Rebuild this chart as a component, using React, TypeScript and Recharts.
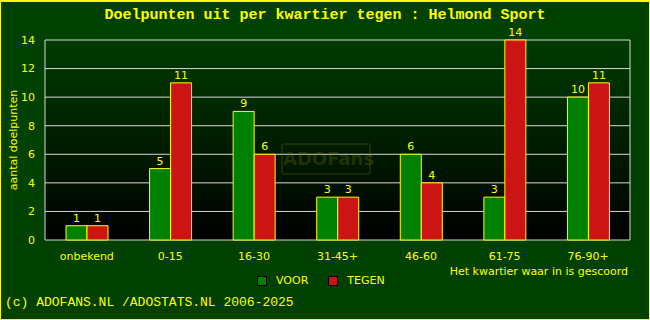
import React from "react";
import { BarChart, Bar, XAxis, YAxis, CartesianGrid, LabelList } from "recharts";

const categories = ["onbekend", "0-15", "16-30", "31-45+", "46-60", "61-75", "76-90+"];
const voor = [1, 5, 9, 3, 6, 3, 10];
const tegen = [1, 11, 6, 3, 4, 14, 11];
const yTicks = [0, 2, 4, 6, 8, 10, 12, 14];
const legendItems = [
  { name: "VOOR", color: "#008000" },
  { name: "TEGEN", color: "#cc1414" },
];

const data = categories.map((c, i) => ({ cat: c, VOOR: voor[i], TEGEN: tegen[i] }));

const YEL = "#ffff00";
const sans = "'DejaVu Sans', sans-serif";
const mono = "'Liberation Mono', 'DejaVu Sans Mono', monospace";

export default function App() {
  return (
    <div style={{ position: "fixed", left: 0, top: 0, width: 650, height: 320, background: "#004000", boxSizing: "border-box", borderStyle: "solid", borderColor: "#ffff00", borderWidth: "2px 1px 1px 1px", overflow: "hidden" }}>
      <div style={{ position: "absolute", left: -1, width: 650, textAlign: "center", fontFamily: mono, fontSize: 15, color: YEL, fontWeight: "bold", lineHeight: "18px", top: 5 }}>
        Doelpunten uit per kwartier tegen : Helmond Sport
      </div>
      <div style={{ position: "absolute", left: -1, top: -2 }}>
        <BarChart width={650} height={320} data={data} margin={{ top: 40, right: 20, left: 0, bottom: 50 }} barGap={0} barSize={21}>
          <defs>
            <linearGradient id="plotbg" x1="0" y1="0" x2="0" y2="1">
              <stop offset="0%" stopColor="#003c00" />
              <stop offset="100%" stopColor="#000000" />
            </linearGradient>
          </defs>
          <CartesianGrid fill="url(#plotbg)" stroke="#d8d8d8" strokeWidth={1} vertical={true} verticalPoints={[45, 630]} fillOpacity={1} />
          <XAxis dataKey="cat" height={30} axisLine={false} tickLine={false} tick={{ fill: YEL, fontSize: 11, fontFamily: sans }} tickMargin={6} />
          <YAxis width={45} domain={[0, 14]} ticks={yTicks} axisLine={false} tickLine={false} tick={{ fill: YEL, fontSize: 11, fontFamily: sans }} tickMargin={4}
            label={{ value: "aantal doelpunten", angle: -90, position: "insideLeft", offset: 13, style: { fill: YEL, fontSize: 11, fontFamily: sans, textAnchor: "middle" } }} />
          <Bar dataKey="VOOR" name="VOOR" fill="#008000" stroke={YEL} strokeWidth={1} isAnimationActive={false}>
            <LabelList dataKey="VOOR" position="top" fill={YEL} fontSize={11} fontFamily={sans} offset={4} />
          </Bar>
          <Bar dataKey="TEGEN" name="TEGEN" fill="#cc1414" stroke={YEL} strokeWidth={1} isAnimationActive={false}>
            <LabelList dataKey="TEGEN" position="top" fill={YEL} fontSize={11} fontFamily={sans} offset={4} />
          </Bar>
        </BarChart>
      </div>
      <div style={{ position: "absolute", left: 280, top: 141, width: 90, height: 32, border: "2px solid rgba(120,120,0,0.22)", borderRadius: 3, boxSizing: "border-box", color: "rgba(120,120,0,0.28)", fontFamily: sans, fontWeight: "bold", fontSize: 18, textAlign: "center", lineHeight: "28px", pointerEvents: "none" }}>
        ADOFans
      </div>
      <div style={{ position: "absolute", left: 256, top: 272, display: "flex", fontFamily: sans, fontSize: 11, color: YEL, lineHeight: "14px" }}>
        {legendItems.map((it) => (
          <div key={it.name} style={{ display: "flex", alignItems: "center", marginRight: 20 }}>
            <span style={{ display: "inline-block", width: 8, height: 8, background: it.color, border: "1px solid #000", marginRight: 9 }} />
            <span>{it.name}</span>
          </div>
        ))}
      </div>
      <div style={{ position: "absolute", right: 21, top: 263, fontFamily: sans, fontSize: 11, color: YEL }}>
        Het kwartier waar in is gescoord
      </div>
      <div style={{ position: "absolute", left: 4, top: 293, fontFamily: mono, fontSize: 13, color: YEL }}>
        (c) ADOFANS.NL /ADOSTATS.NL 2006-2025
      </div>
    </div>
  );
}
